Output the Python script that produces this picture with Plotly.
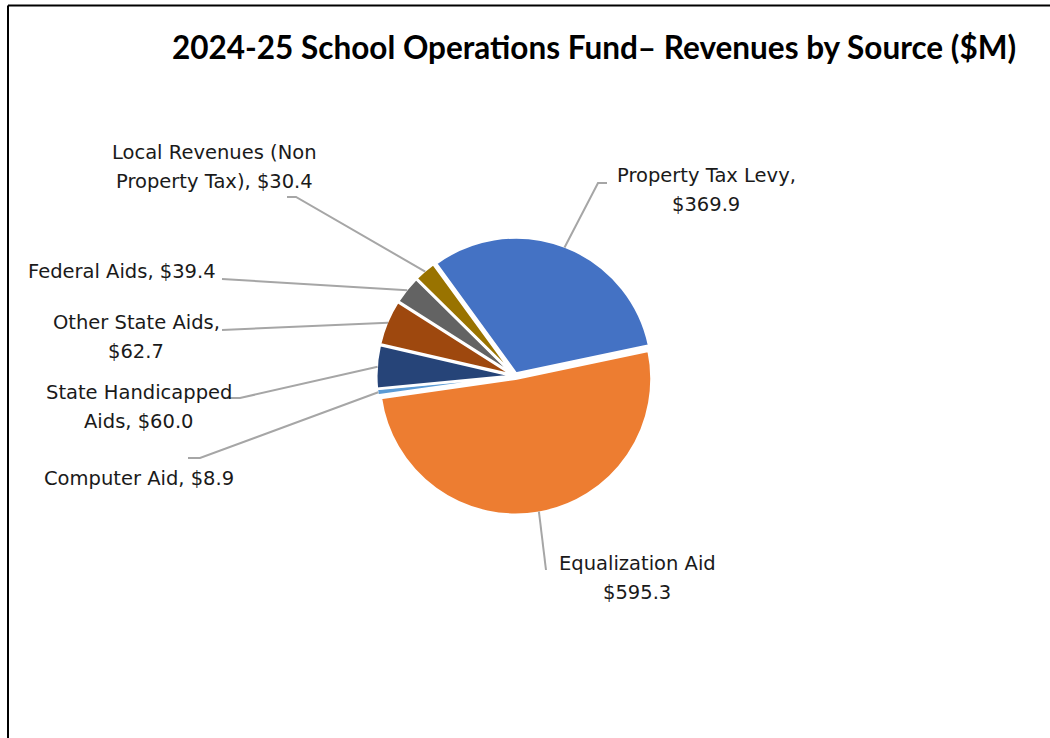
import math
import plotly.graph_objects as go

# Revenue sources, in the order the slices are drawn (clockwise)
sources = [
    "Property Tax Levy",
    "Equalization Aid",
    "Computer Aid",
    "State Handicapped Aids",
    "Other State Aids",
    "Federal Aids",
    "Local Revenues (Non Property Tax)",
]
amounts = [369.9, 595.3, 8.9, 60.0, 62.7, 39.4, 30.4]
colors = ["#4472C4", "#ED7D31", "#5B9BD5", "#264478", "#9E480E", "#636363", "#997300"]

# Label text for each slice, one entry per displayed line
label_lines = [
    ["Property Tax Levy,", "$369.9"],
    ["Equalization Aid", "$595.3"],
    ["Computer Aid, $8.9"],
    ["State Handicapped", "Aids, $60.0"],
    ["Other State Aids,", "$62.7"],
    ["Federal Aids, $39.4"],
    ["Local Revenues (Non", "Property Tax), $30.4"],
]

TITLE = "2024-25 School Operations Fund\u2013 Revenues by Source ($M)"

# Page / pie geometry (pixels)
W, H = 1050, 738
CX, CY = 515, 376          # pie centre
R = 136                    # pie radius
PULL = 0.02
ROTATION = -36             # first slice starts 36 degrees before 12 o'clock
LINE_GAP = 29              # spacing between label lines

# Label block centres and leader-line elbow / end points (pixels)
label_pos = [(706, 190), (637, 578), (139, 478), (139, 407), (136, 337), (122, 271), (214, 167)]
leader_pts = [
    [(598, 183), (607, 183)],
    [(546, 570)],
    [(200, 458), (188, 458)],
    [(240, 398), (227, 398)],
    [(222, 330)],
    [(222, 279)],
    [(296, 197), (287, 197)],
]

LABEL_FONT = dict(family="DejaVu Sans, sans-serif", size=19.5, color="#1a1a1a")


def px(x):
    return x / W


def py(y):
    return 1 - y / H


box = R * (1 + PULL)
fig = go.Figure(
    go.Pie(
        labels=sources,
        values=amounts,
        sort=False,
        direction="clockwise",
        rotation=ROTATION,
        pull=[PULL] * len(amounts),
        marker=dict(colors=colors, line=dict(color="white", width=2.5)),
        textinfo="none",
        hoverinfo="label+value",
        domain=dict(x=[px(CX - box), px(CX + box)], y=[py(CY + box), py(CY - box)]),
        showlegend=False,
    )
)

# Leader lines start at the outer edge of each slice, at its middle angle
total = sum(amounts)
shapes = []
annotations = []
start = ROTATION
for val, pts, (lx, ly), lines in zip(amounts, leader_pts, label_pos, label_lines):
    span = val / total * 360
    mid = math.radians(start + span / 2)
    start += span
    r_edge = R * (1 + PULL) - 1
    ex = CX + r_edge * math.sin(mid)
    ey = CY - r_edge * math.cos(mid)
    path_pts = [(ex, ey)] + pts
    path = "M " + " L ".join(f"{px(x):.5f},{py(y):.5f}" for x, y in path_pts)
    shapes.append(dict(type="path", xref="paper", yref="paper", path=path,
                       line=dict(color="#A6A6A6", width=2)))
    n = len(lines)
    for i, line in enumerate(lines):
        yy = ly + (i - (n - 1) / 2) * LINE_GAP
        annotations.append(dict(
            x=px(lx), y=py(yy), xref="paper", yref="paper", text=line, showarrow=False,
            xanchor="center", yanchor="middle", font=LABEL_FONT,
        ))

# Chart title
annotations.append(dict(
    x=px(594), y=py(47), xref="paper", yref="paper", text=f"<b>{TITLE}</b>",
    showarrow=False, xanchor="center", yanchor="middle",
    font=dict(family="Lato, sans-serif", size=31.5, color="#000000"),
))

# Chart frame (top and left edges)
shapes.append(dict(type="line", xref="paper", yref="paper", x0=px(8), y0=py(5.5), x1=px(1060), y1=py(5.5),
                   line=dict(color="black", width=2)))
shapes.append(dict(type="line", xref="paper", yref="paper", x0=px(8), y0=py(5.5), x1=px(8), y1=py(760),
                   line=dict(color="black", width=2)))

fig.update_layout(
    width=W, height=H,
    margin=dict(l=0, r=0, t=0, b=0),
    paper_bgcolor="white", plot_bgcolor="white",
    shapes=shapes, annotations=annotations,
)

fig.write_html("out.html", config={"displayModeBar": False})
